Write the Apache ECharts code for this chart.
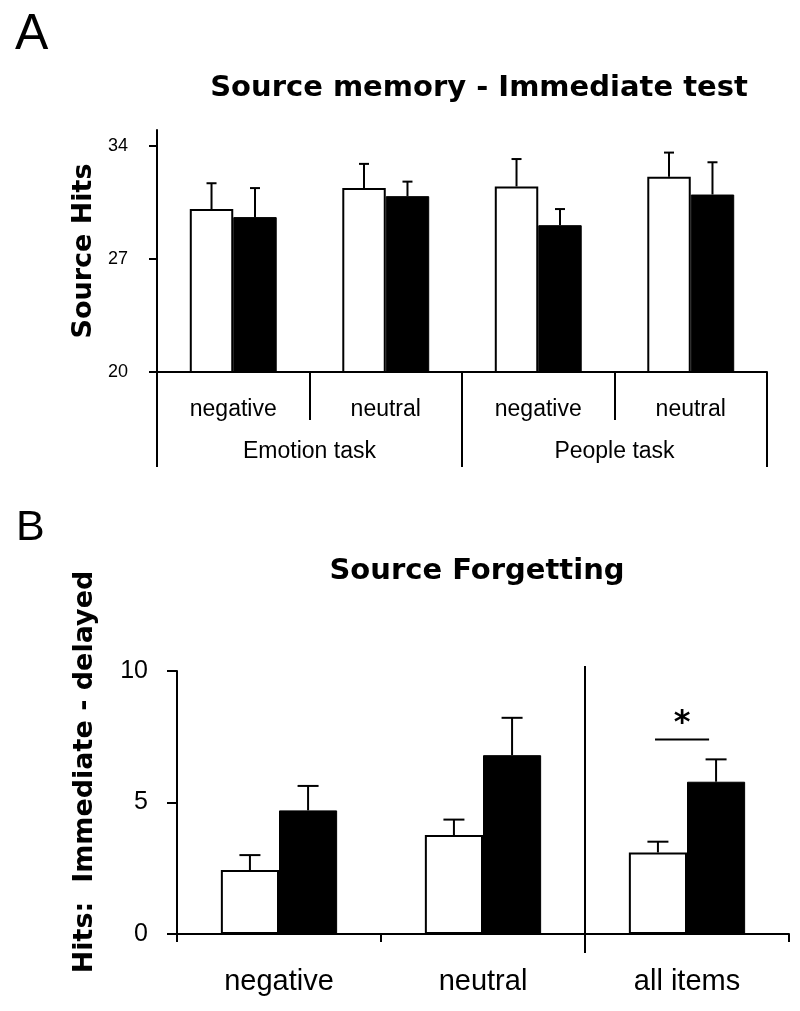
<!DOCTYPE html>
<html><head><meta charset="utf-8">
<script src="https://cdn.jsdelivr.net/npm/echarts@6/dist/echarts.min.js"></script>
<style>html,body{margin:0;padding:0;background:#fff}#c{width:800px;height:1011px}</style>
</head><body><div id="c"></div>
<script>
// ---------- Panel A data ----------
const conditionsA = ['negative', 'neutral', 'negative', 'neutral'];
const tasksA = ['Emotion task', 'People task'];
const whiteA = [30.1, 31.4, 31.5, 32.1];
const whiteErrA = [1.6, 1.5, 1.7, 1.5];
const blackA = [29.6, 30.9, 29.1, 31.0];
const blackErrA = [1.8, 0.9, 1.0, 2.0];
const ticksA = [20, 27, 34];
const axisMaxA = 35;

// ---------- Panel B data ----------
const categoriesB = ['negative', 'neutral', 'all items'];
const whiteB = [2.43, 3.76, 3.1];
const whiteErrB = [0.57, 0.59, 0.41];
const blackB = [4.70, 6.8, 5.79];
const blackErrB = [0.93, 1.42, 0.85];
const ticksB = [0, 5, 10];
const separatorAfterB = 1;          // divider after this category index
const significanceB = [[2, 7.4, 8.0]]; // [category index, bar-line value, star value]

// ---------- styling ----------
const BOLD = 'DejaVu Sans';
const REG = 'Liberation Sans, Arial, sans-serif';
const BAR_FRAC = 0.285;
const black = '#000';

function errRender(side, capW) {
  return function (params, api) {
    const i = api.value(0), m = api.value(1), e = api.value(2);
    const band = api.size([1, 0])[0];
    const bw = band * BAR_FRAC;
    const base = api.coord([i, m]);
    const top = api.coord([i, m + e]);
    const x = base[0] + side * bw / 2;
    return {
      type: 'group', children: [
        { type: 'line', shape: { x1: x, y1: base[1], x2: x, y2: top[1] }, style: { stroke: black, lineWidth: 2 } },
        { type: 'line', shape: { x1: x - capW / 2, y1: top[1], x2: x + capW / 2, y2: top[1] }, style: { stroke: black, lineWidth: 2 } }
      ]
    };
  };
}

function errData(means, errs) { return means.map((m, i) => [i, m, errs[i]]); }

const chart = echarts.init(document.getElementById('c'), null, { renderer: 'canvas' });

const option = {
  animation: false,
  backgroundColor: '#fff',
  title: [
    { text: 'A', left: 10, top: 5, textStyle: { fontFamily: REG, fontWeight: 'normal', fontSize: 50, color: black } },
    { text: 'B', left: 11, top: 502, textStyle: { fontFamily: REG, fontWeight: 'normal', fontSize: 43, color: black } },
    { text: 'Source memory - Immediate test', left: 474, textAlign: 'center', top: 69, textStyle: { fontFamily: BOLD, fontWeight: 'bold', fontSize: 29, color: black } },
    { text: 'Source Forgetting', left: 472, textAlign: 'center', top: 552, textStyle: { fontFamily: BOLD, fontWeight: 'bold', fontSize: 29, color: black } }
  ],
  grid: [
    { left: 157, right: 33, top: 130, bottom: 1011 - 372, containLabel: false, outerBoundsMode: 'none' },
    { left: 177, right: 11, top: 671, bottom: 1011 - 934, containLabel: false, outerBoundsMode: 'none' }
  ],
  xAxis: [
    {
      type: 'category', gridIndex: 0, data: conditionsA, position: 'bottom',
      axisLine: { lineStyle: { color: black, width: 2 } },
      axisTick: { show: true, interval: 0, length: 48, lineStyle: { color: black, width: 2 } },
      axisLabel: { interval: 0, margin: 26, fontFamily: REG, fontSize: 23, color: black }
    },
    {
      type: 'category', gridIndex: 0, data: tasksA, position: 'bottom', offset: 0,
      axisLine: { show: false },
      axisTick: { show: true, interval: 0, length: 95, lineStyle: { color: black, width: 2 } },
      axisLabel: { interval: 0, margin: 68, fontFamily: REG, fontSize: 23, color: black }
    },
    {
      type: 'category', gridIndex: 1, data: categoriesB, position: 'bottom',
      axisLine: { lineStyle: { color: black, width: 2 } },
      axisTick: { show: true, interval: 0, length: 8, lineStyle: { color: black, width: 2 } },
      axisLabel: { interval: 0, margin: 33, fontFamily: REG, fontSize: 29, color: black }
    }
  ],
  yAxis: [
    {
      type: 'value', gridIndex: 0, min: ticksA[0], max: axisMaxA, interval: ticksA[1] - ticksA[0],
      name: 'Source Hits', nameLocation: 'middle', nameGap: 59, nameRotate: 90,
      nameTextStyle: { fontFamily: BOLD, fontWeight: 'bold', fontSize: 27, color: black },
      axisLine: { show: true, lineStyle: { color: black, width: 2 } },
      axisTick: { show: true, length: 8, customValues: ticksA, lineStyle: { color: black, width: 2 } },
      axisLabel: { margin: 29, customValues: ticksA, fontFamily: REG, fontSize: 18, color: black },
      splitLine: { show: false }
    },
    {
      type: 'value', gridIndex: 1, min: ticksB[0], max: ticksB[2], interval: ticksB[1] - ticksB[0],
      name: 'Hits:  Immediate - delayed', nameLocation: 'middle', nameGap: 79, nameRotate: 90,
      nameTextStyle: { fontFamily: BOLD, fontWeight: 'bold', fontSize: 27, color: black, padding: [0, 0, 0, 61] },
      axisLine: { show: true, lineStyle: { color: black, width: 2 } },
      axisTick: { show: true, length: 10, lineStyle: { color: black, width: 2 } },
      axisLabel: { margin: 29, fontFamily: REG, fontSize: 25, color: black },
      splitLine: { show: false }
    }
  ],
  series: [
    // Panel A bars
    { type: 'bar', xAxisIndex: 0, yAxisIndex: 0, data: whiteA, barWidth: (BAR_FRAC * 100) + '%', barGap: '0%',
      itemStyle: { color: '#fff', borderColor: black, borderWidth: 2 }, z: 2 },
    { type: 'bar', xAxisIndex: 0, yAxisIndex: 0, data: blackA, barWidth: (BAR_FRAC * 100) + '%', barGap: '0%',
      itemStyle: { color: black, borderColor: black, borderWidth: 1 }, z: 2 },
    { type: 'custom', xAxisIndex: 0, yAxisIndex: 0, data: errData(whiteA, whiteErrA), renderItem: errRender(-1, 10), z: 3 },
    { type: 'custom', xAxisIndex: 0, yAxisIndex: 0, data: errData(blackA, blackErrA), renderItem: errRender(1, 10), z: 3 },
    // Panel B bars
    { type: 'bar', xAxisIndex: 2, yAxisIndex: 1, data: whiteB, barWidth: (BAR_FRAC * 100) + '%', barGap: '0%',
      itemStyle: { color: '#fff', borderColor: black, borderWidth: 2 }, z: 2 },
    { type: 'bar', xAxisIndex: 2, yAxisIndex: 1, data: blackB, barWidth: (BAR_FRAC * 100) + '%', barGap: '0%',
      itemStyle: { color: black, borderColor: black, borderWidth: 1 }, z: 2 },
    { type: 'custom', xAxisIndex: 2, yAxisIndex: 1, data: errData(whiteB, whiteErrB), renderItem: errRender(-1, 21), z: 3 },
    { type: 'custom', xAxisIndex: 2, yAxisIndex: 1, data: errData(blackB, blackErrB), renderItem: errRender(1, 21), z: 3 },
    // Panel B divider between the conditions and "all items"
    { type: 'custom', xAxisIndex: 2, yAxisIndex: 1, clip: false,
      data: [[separatorAfterB, ticksB[2], ticksB[0]]],
      renderItem: function (params, api) {
        const i = api.value(0);
        const band = api.size([1, 0])[0];
        const p = api.coord([i, api.value(1)]);
        const q = api.coord([i, api.value(2)]);
        const x = p[0] + band / 2;
        return { type: 'line', shape: { x1: x, y1: p[1] - 5, x2: x, y2: q[1] + 19 }, style: { stroke: black, lineWidth: 2 } };
      }, z: 4 },
    // Significance line and star
    { type: 'custom', xAxisIndex: 2, yAxisIndex: 1, clip: false, data: significanceB,
      renderItem: function (params, api) {
        const i = api.value(0);
        const band = api.size([1, 0])[0];
        const bw = band * BAR_FRAC;
        const l = api.coord([i, api.value(1)]);
        const s = api.coord([i, api.value(2)]);
        const x1 = l[0] - bw * 0.55, x2 = l[0] + bw * 0.38;
        return { type: 'group', children: [
          { type: 'line', shape: { x1: x1, y1: l[1], x2: x2, y2: l[1] }, style: { stroke: black, lineWidth: 2 } },
          { type: 'text', x: (x1 + x2) / 2, y: s[1], style: { text: '*', fontFamily: BOLD, fontWeight: 'bold', fontSize: 32, fill: black, align: 'center', verticalAlign: 'middle' } }
        ] };
      }, z: 4 }
  ]
};
chart.setOption(option);
</script>
</body></html>
